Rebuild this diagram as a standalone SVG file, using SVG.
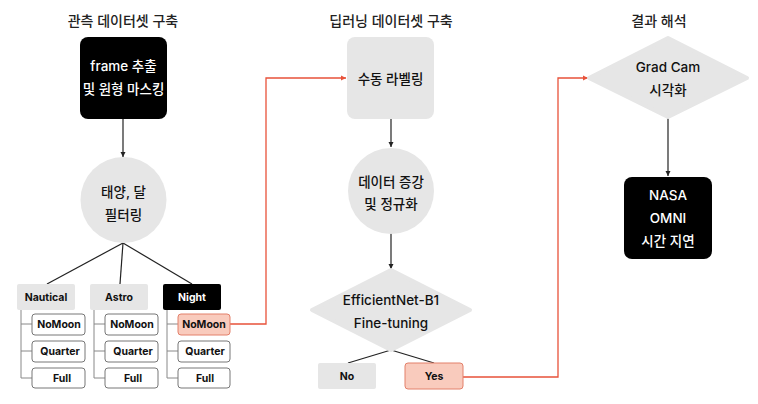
<svg xmlns="http://www.w3.org/2000/svg" width="758" height="404" viewBox="0 0 758 404">
<defs>
<style>
text{font-family:Inter,"Noto Sans CJK KR",sans-serif;text-anchor:middle;dominant-baseline:central}
.title{font-size:14px;font-weight:500;fill:#222}
.w{fill:#fff;font-size:13.5px;font-weight:500}
.d{fill:#111;font-size:13.5px;font-weight:500}
.s{fill:#111;font-size:10.5px;font-weight:700}
.gray{fill:#e6e6e6}
.blk{fill:#000}
.sub{fill:#fff;stroke:#777;stroke-width:1}
.hl{fill:#f9cbbd;stroke:#e3806a;stroke-width:1}
.ln{fill:none;stroke:#222;stroke-width:1.2}
.br{fill:none;stroke:#888;stroke-width:1}
.red{fill:none;stroke:#e8523a;stroke-width:1.3}
</style>
<marker id="ab" markerWidth="6" markerHeight="6" refX="5" refY="3" orient="auto" markerUnits="userSpaceOnUse"><path d="M0,0.5 L5,3 L0,5.5 z" fill="#222"/></marker>
<marker id="ar" markerWidth="6" markerHeight="6" refX="5" refY="3" orient="auto" markerUnits="userSpaceOnUse"><path d="M0,0.5 L5,3 L0,5.5 z" fill="#e8523a"/></marker>
</defs>
<rect width="758" height="404" fill="#fff"/>
<g id="titles">
<text class="title" x="123" y="20">관측 데이터셋 구축</text>
<text class="title" x="391" y="20">딥러닝 데이터셋 구축</text>
<text class="title" x="659" y="20">결과 해석</text>
</g>
<g id="connectors">
<line class="ln" x1="123" y1="119" x2="123" y2="157" marker-end="url(#ab)"/>
<line class="ln" x1="123" y1="243" x2="47" y2="284"/>
<line class="ln" x1="123" y1="243" x2="120" y2="284"/>
<line class="ln" x1="123" y1="243" x2="192" y2="284"/>
<path class="br" d="M21,310 V378 H32 M21,324 H32 M21,351 H32"/>
<path class="br" d="M94,310 V378 H105 M94,324 H105 M94,351 H105"/>
<path class="br" d="M167,310 V378 H178 M167,324 H178 M167,351 H178"/>
<path class="red" d="M230,324 H266 V78 H346" marker-end="url(#ar)"/>
<line class="ln" x1="391" y1="119" x2="391" y2="147" marker-end="url(#ab)"/>
<line class="ln" x1="391" y1="233" x2="391" y2="269" marker-end="url(#ab)"/>
<line class="ln" x1="391" y1="350" x2="348" y2="363"/>
<line class="ln" x1="391" y1="350" x2="434" y2="363"/>
<path class="red" d="M463,377 H558 V78 H588" marker-end="url(#ar)"/>
<line class="ln" x1="668" y1="117" x2="668" y2="176" marker-end="url(#ab)"/>
</g>
<g id="frame">
<rect class="blk" x="80" y="37" width="87" height="82" rx="8"/>
<text class="w" x="123.5" y="66">frame 추출</text>
<text class="w" x="123.5" y="89">및 원형 마스킹</text>
</g>
<g id="filter">
<circle class="gray" cx="123.5" cy="200" r="43"/>
<text class="d" x="123.5" y="192">태양, 달</text>
<text class="d" x="123.5" y="215">필터링</text>
</g>
<g id="nautical">
<rect class="gray" x="17" y="284" width="58" height="26" rx="2"/>
<text class="s" x="46" y="297">Nautical</text>
</g>
<g id="astro">
<rect class="gray" x="90" y="284" width="58" height="26" rx="2"/>
<text class="s" x="119" y="297">Astro</text>
</g>
<g id="night">
<rect class="blk" x="163" y="284" width="58" height="26" rx="2"/>
<text class="s" x="192" y="297" style="fill:#fff">Night</text>
</g>
<g id="nautical-nomoon"><rect class="sub" x="32" y="314" width="53" height="21" rx="3"/><text class="s" x="59" y="324.5">NoMoon</text></g>
<g id="nautical-quarter"><rect class="sub" x="32" y="341" width="53" height="21" rx="3"/><text class="s" x="60" y="351.5">Quarter</text></g>
<g id="nautical-full"><rect class="sub" x="32" y="368" width="53" height="20" rx="3"/><text class="s" x="62" y="378">Full</text></g>
<g id="astro-nomoon"><rect class="sub" x="105" y="314" width="53" height="21" rx="3"/><text class="s" x="132" y="324.5">NoMoon</text></g>
<g id="astro-quarter"><rect class="sub" x="105" y="341" width="53" height="21" rx="3"/><text class="s" x="133" y="351.5">Quarter</text></g>
<g id="astro-full"><rect class="sub" x="105" y="368" width="53" height="20" rx="3"/><text class="s" x="133" y="378">Full</text></g>
<g id="night-nomoon"><rect class="hl" x="178" y="314" width="52" height="21" rx="3"/><text class="s" x="204" y="324.5">NoMoon</text></g>
<g id="night-quarter"><rect class="sub" x="178" y="341" width="52" height="21" rx="3"/><text class="s" x="205" y="351.5">Quarter</text></g>
<g id="night-full"><rect class="sub" x="178" y="368" width="52" height="20" rx="3"/><text class="s" x="205" y="378">Full</text></g>
<g id="labeling">
<rect class="gray" x="347" y="37" width="87" height="82" rx="8"/>
<text class="d" x="390.5" y="79">수동 라벨링</text>
</g>
<g id="augment">
<circle class="gray" cx="391" cy="191" r="43"/>
<text class="d" x="391" y="182">데이터 증강</text>
<text class="d" x="391" y="204">및 정규화</text>
</g>
<g id="efficientnet">
<path class="gray" d="M391,270 L470,310 L391,350 L312,310 Z" stroke="#e6e6e6" stroke-width="4" stroke-linejoin="round"/>
<text class="d" x="391" y="300">EfficientNet-B1</text>
<text class="d" x="391" y="323">Fine-tuning</text>
</g>
<g id="no">
<rect class="gray" x="318" y="363" width="58" height="26" rx="2"/>
<text class="s" x="347" y="376">No</text>
</g>
<g id="yes">
<rect class="hl" x="405" y="363" width="58" height="26" rx="3"/>
<text class="s" x="434" y="376">Yes</text>
</g>
<g id="gradcam">
<path class="gray" d="M668,38 L747,78 L668,117 L589,78 Z" stroke="#e6e6e6" stroke-width="4" stroke-linejoin="round"/>
<text class="d" x="668" y="67">Grad Cam</text>
<text class="d" x="668" y="90">시각화</text>
</g>
<g id="nasa">
<rect class="blk" x="624" y="177" width="88" height="82" rx="8"/>
<text class="w" x="668" y="195">NASA</text>
<text class="w" x="668" y="218">OMNI</text>
<text class="w" x="668" y="241">시간 지연</text>
</g>
</svg>
